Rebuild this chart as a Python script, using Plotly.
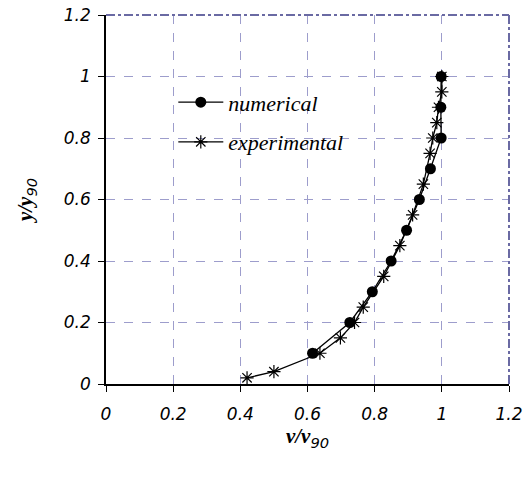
import plotly.graph_objects as go

# numerical series
num_x = [0.615, 0.726, 0.793, 0.849, 0.895, 0.933, 0.966, 0.998, 0.997, 0.998]
num_y = [0.1, 0.2, 0.3, 0.4, 0.5, 0.6, 0.7, 0.8, 0.9, 1.0]

# experimental series
exp_x = [0.42, 0.50, 0.637, 0.698, 0.740, 0.766, 0.827, 0.875, 0.913, 0.945, 0.965, 0.973, 0.985, 0.990, 1.0, 1.0]
exp_y = [0.02, 0.04, 0.10, 0.15, 0.20, 0.25, 0.35, 0.45, 0.55, 0.65, 0.75, 0.80, 0.85, 0.90, 0.95, 1.0]

tick_vals = [0, 0.2, 0.4, 0.6, 0.8, 1.0, 1.2]
tick_text = ["0", "0.2", "0.4", "0.6", "0.8", "1", "1.2"]

fig = go.Figure()
fig.add_trace(go.Scatter(
    x=num_x, y=num_y, mode="lines+markers", name="numerical", legendgroup="a",
    line=dict(color="black", width=1.3),
    marker=dict(symbol="circle", size=11, color="black"),
))
fig.add_trace(go.Scatter(
    x=exp_x, y=exp_y, mode="lines+markers", name="experimental", legendgroup="b",
    line=dict(color="black", width=1.3),
    marker=dict(symbol="asterisk-open", size=11, color="black",
                line=dict(color="black", width=1.2)),
))

tickfont = dict(family="DejaVu Sans", size=17, color="black", style="italic")
common = dict(showgrid=True, gridcolor="#9d9dcc", griddash="dash", gridwidth=1,
              zeroline=False, showline=True, linecolor="black", linewidth=1.5,
              ticks="outside", ticklen=6, tickcolor="black", tickwidth=1,
              tickfont=tickfont, range=[0, 1.2], tickvals=tick_vals, ticktext=tick_text,
              fixedrange=True, automargin=False, ticklabeloverflow="allow")

title_font = dict(family="Liberation Serif", size=21, color="black", style="italic")

fig.update_layout(
    width=532, height=477,
    margin=dict(l=106, r=23, t=15, b=93),
    paper_bgcolor="white", plot_bgcolor="white",
    showlegend=True,
    legend=dict(x=0.167, y=0.82, xanchor="left", yanchor="top",
                bgcolor="rgba(0,0,0,0)", itemwidth=45, tracegroupgap=8,
                font=dict(family="Liberation Serif", size=22, color="black", style="italic")),
    xaxis=dict(**common, ticklabelstandoff=8, title=dict(
        text="<b>v/v</b><sub><span style='font-family:DejaVu Sans'>90</span></sub>",
        font=title_font, standoff=4)),
    yaxis=dict(**common, ticklabelstandoff=4, title=dict(
        text="<b>y/y</b><sub><span style='font-family:DejaVu Sans'>90</span></sub>",
        font=title_font, standoff=25)),
)

# dash-dot frame on top and right
fig.add_shape(type="line", xref="paper", yref="paper", x0=0, x1=1, y0=1, y1=1,
              line=dict(color="#6a6aa3", width=2, dash="dashdot"))
fig.add_shape(type="line", xref="paper", yref="paper", x0=1, x1=1, y0=0, y1=1,
              line=dict(color="#6a6aa3", width=2, dash="dashdot"))

fig.write_html("out.html", config={"displayModeBar": False},
               post_script="document.body.style.margin='0';")
